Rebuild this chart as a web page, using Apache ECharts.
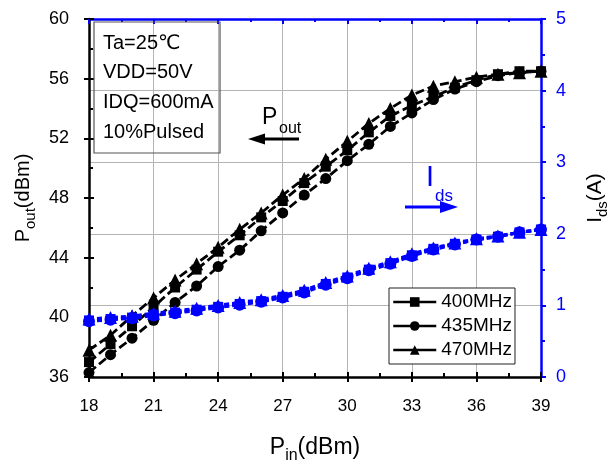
<!DOCTYPE html>
<html><head><meta charset="utf-8">
<script src="https://cdn.jsdelivr.net/npm/echarts@6/dist/echarts.min.js"></script>
<style>html,body{margin:0;padding:0;background:#fff}#c{width:610px;height:465px}</style>
</head><body><div id="c"></div>
<script>
// ---- data ----
const pin = [18,19,20,21,22,23,24,25,26,27,28,29,30,31,32,33,34,35,36,37,38,39];
const pout400 = [37.0,38.2,39.4,40.7,42.0,43.2,44.4,45.5,46.7,47.8,49.0,50.1,51.2,52.4,53.5,54.2,54.8,55.4,55.9,56.3,56.5,56.5];
const pout435 = [36.3,37.5,38.6,39.8,41.0,42.1,43.4,44.5,45.8,47.0,48.2,49.3,50.5,51.6,52.8,53.7,54.6,55.3,55.8,56.2,56.4,56.5];
const pout470 = [37.8,38.8,40.1,41.3,42.5,43.6,44.7,45.9,47.0,48.2,49.3,50.6,51.8,53.0,54.0,54.9,55.5,55.8,56.1,56.3,56.4,56.5];
const ids400 = [0.79,0.81,0.83,0.87,0.90,0.94,0.98,1.02,1.06,1.12,1.19,1.30,1.39,1.50,1.59,1.70,1.79,1.86,1.92,1.96,2.02,2.06];
const ids435 = [0.78,0.80,0.82,0.86,0.89,0.93,0.97,1.01,1.05,1.11,1.18,1.29,1.38,1.49,1.58,1.69,1.78,1.85,1.92,1.96,2.02,2.06];
const ids470 = [0.81,0.83,0.85,0.89,0.92,0.96,1.00,1.04,1.08,1.14,1.21,1.32,1.41,1.52,1.61,1.72,1.80,1.87,1.93,1.97,2.02,2.06];
const freqNames = ['400MHz','435MHz','470MHz'];
const xTicks = {min:18, max:39, interval:3};
const yLeftTicks = {min:36, max:60, interval:4};
const yRightTicks = {min:0, max:5, interval:1};
const infoLines = ['Ta=25\u2103','VDD=50V','IDQ=600mA','10%Pulsed'];

// ---- chart ----
const F = 'Arial, "Liberation Sans", "DejaVu Sans", sans-serif';
const BLUE = '#0000ff', BLACK = '#000000', GRID = '#b4b4b4';
const chart = echarts.init(document.getElementById('c'), null, {renderer:'canvas'});

function pts(v){ return pin.map((x,i)=>[x, v[i]]); }
function ser(name, v, sym, size, color, yIdx, dash, w, z){
  return {name, type:'line', xAxisIndex:0, yAxisIndex:yIdx, data:pts(v), symbol:sym, symbolSize:size,
    showSymbol:true, showAllSymbol:true, lineStyle:{color, width:w, type:dash}, itemStyle:{color, borderWidth:0},
    emphasis:{disabled:true}, z, animation:false};
}
function subRich(color, fs, ss, pad){
  return {
    m:{fontSize:fs, lineHeight:fs+3, verticalAlign:'top', color, fontFamily:F},
    s:{fontSize:ss, lineHeight:ss, padding:[pad,0,0,0], color, fontFamily:F}
  };
}

const option = {
  animation:false,
  backgroundColor:'#fff',
  grid:{left:89, right:69, top:19, bottom:88, containLabel:false, outerBoundsMode:'none'},
  legend:{
    data:freqNames, orient:'vertical', left:389, top:288, selectedMode:false,
    itemWidth:43, itemHeight:12, itemGap:4,
    padding:[4,3,4,3], borderColor:'#222', borderWidth:1, backgroundColor:'#fff',
    textStyle:{fontSize:19, color:'#000', fontFamily:F, lineHeight:20},
    lineStyle:{type:'solid', width:2.5, color:'#000'}
  },
  xAxis:[
    {type:'value', ...xTicks, position:'bottom',
     name:'{m|P}{s|in}{m|(dBm)}', nameLocation:'middle', nameGap:59,
     nameTextStyle:{rich:subRich('#000',23,16,14)},
     axisLine:{onZero:false, lineStyle:{color:BLACK, width:2.5}},
     axisTick:{show:true, inside:false, length:5, lineStyle:{color:BLACK, width:2}},
     axisLabel:{fontSize:17, color:'#000', margin:21, fontFamily:F},
     splitLine:{show:true, lineStyle:{color:GRID, width:1}}},
    {type:'value', ...xTicks, position:'bottom',
     axisLine:{show:false}, axisTick:{show:true, inside:true, length:5, lineStyle:{color:BLACK, width:2}},
     minorTick:{show:true, splitNumber:2, length:4, lineStyle:{color:BLACK, width:2}},
     axisLabel:{show:false}, splitLine:{show:false}},
    {type:'value', ...xTicks, position:'top',
     axisLine:{onZero:false, lineStyle:{color:BLUE, width:2.5}},
     axisTick:{show:true, inside:true, length:5, lineStyle:{color:BLUE, width:2}},
     minorTick:{show:true, splitNumber:2, length:3, lineStyle:{color:BLUE, width:2}},
     axisLabel:{show:false}, splitLine:{show:false}}
  ],
  yAxis:[
    {type:'value', ...yLeftTicks, position:'left',
     name:'{m|P}{s|out}{m|(dBm)}', nameLocation:'middle', nameRotate:90, nameGap:49,
     nameTextStyle:{rich:subRich('#000',20,15,12)},
     axisLine:{onZero:false, lineStyle:{color:BLACK, width:2.5}},
     axisTick:{show:true, inside:false, length:5, lineStyle:{color:BLACK, width:2}},
     axisLabel:{fontSize:18, color:'#000', margin:20, fontFamily:F},
     splitLine:{show:false}},
    {type:'value', ...yRightTicks, position:'right',
     name:'{m|I}{s|ds}{m|(A)}', nameLocation:'middle', nameRotate:90, nameGap:44,
     nameTextStyle:{rich:subRich('#000',21,15,12)},
     axisLine:{onZero:false, lineStyle:{color:BLUE, width:2.5}},
     axisTick:{show:true, inside:false, length:5, lineStyle:{color:BLUE, width:2}},
     minorTick:{show:true, splitNumber:2, length:4, lineStyle:{color:BLUE, width:2}},
     axisLabel:{fontSize:18, color:BLUE, margin:15, fontFamily:F},
     splitLine:{show:true, lineStyle:{color:GRID, width:1}}},
    {type:'value', ...yLeftTicks, position:'left',
     axisLine:{show:false}, axisTick:{show:true, inside:true, length:5, lineStyle:{color:BLACK, width:2}},
     minorTick:{show:true, splitNumber:2, length:4, lineStyle:{color:BLACK, width:2}},
     axisLabel:{show:false}, splitLine:{show:false}}
  ],
  series:[
    ser(freqNames[0], pout400, 'rect', 10, BLACK, 0, [9,4], 2.8, 3),
    ser(freqNames[1], pout435, 'circle', 11, BLACK, 0, [9,4], 2.8, 3),
    ser(freqNames[2], pout470, 'triangle', 13, BLACK, 0, [9,4], 2.8, 3),
    ser('Ids400', ids400, 'rect', 10, BLUE, 1, [5,3], 3.2, 4),
    ser('Ids435', ids435, 'circle', 12, BLUE, 1, [5,3], 3.2, 4),
    ser('Ids470', ids470, 'triangle', 13, BLUE, 1, [5,3], 3.2, 4)
  ],
  graphic:[
    {type:'rect', shape:{x:94, y:22, width:126, height:131}, style:{fill:'none', stroke:'#555', lineWidth:1.2}, z:50},
    ...infoLines.map((t,i)=>({type:'text', x:103, y:43+i*29.7, style:{text:t, fontSize:20, fontFamily:F, fill:'#000', verticalAlign:'middle'}, z:50})),
    {type:'text', x:262, y:129, style:{text:'P', fontSize:23, fontFamily:F, fill:'#000', verticalAlign:'bottom'}, z:50},
    {type:'text', x:279, y:137, style:{text:'out', fontSize:16, fontFamily:F, fill:'#000', verticalAlign:'bottom'}, z:50},
    {type:'line', shape:{x1:299, y1:139, x2:260, y2:139}, style:{stroke:'#000', lineWidth:3}, z:50},
    {type:'polygon', shape:{points:[[248,139],[265,133.5],[265,144.5]]}, style:{fill:'#000'}, z:50},
    {type:'text', x:426, y:192, style:{text:'I', fontSize:29, fontFamily:F, fill:BLUE, verticalAlign:'bottom'}, z:50},
    {type:'text', x:435, y:205, style:{text:'ds', fontSize:17, fontFamily:F, fill:BLUE, verticalAlign:'bottom'}, z:50},
    {type:'line', shape:{x1:405, y1:207, x2:445, y2:207}, style:{stroke:BLUE, lineWidth:3}, z:50},
    {type:'polygon', shape:{points:[[458,207],[440,201],[440,213]]}, style:{fill:BLUE}, z:50}
  ]
};
chart.setOption(option);
</script></body></html>
